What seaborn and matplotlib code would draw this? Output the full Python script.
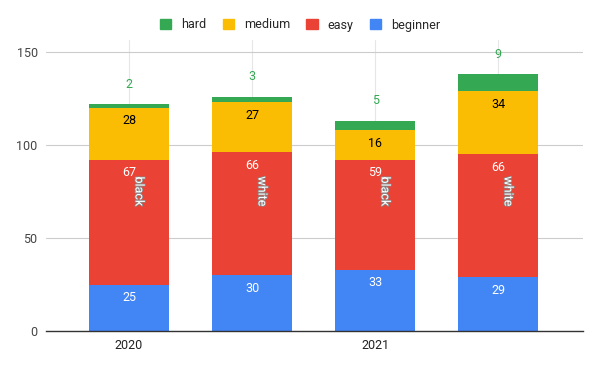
import matplotlib
matplotlib.use("Agg")
import matplotlib.pyplot as plt
import matplotlib.patheffects as pe
import seaborn as sns
import pandas as pd
import numpy as np

# data
bars = ["2020", "", "2021", ""]
inner_labels = ["black", "white", "black", "white"]
beginner = [25, 30, 33, 29]
easy = [67, 66, 59, 66]
medium = [28, 27, 16, 34]
hard = [2, 3, 5, 9]

series = ["beginner", "easy", "medium", "hard"]
colors = {"beginner": "#4285f4", "easy": "#ea4335", "medium": "#fbbc04", "hard": "#34a853"}
label_colors = {"beginner": "white", "easy": "white", "medium": "black", "hard": "#34a853"}

sns.set_theme(style="white")
plt.rcParams["font.family"] = ["Roboto", "DejaVu Sans"]

df = pd.DataFrame({"pos": range(len(bars)), "beginner": beginner, "easy": easy,
                   "medium": medium, "hard": hard})
cum = df[series].cumsum(axis=1)

fig = plt.figure(figsize=(6, 3.71), dpi=100)
ax = fig.add_axes([46 / 600, 40 / 371, 537 / 600, 291 / 371])

# draw cumulative totals from the top series down so each one overlays the last
for s in reversed(series):
    sns.barplot(x=df["pos"], y=cum[s], color=colors[s], width=0.65, saturation=1,
                ax=ax, zorder=3, order=list(range(len(bars))), linewidth=0, edgecolor="none")

# value labels
for i in range(len(bars)):
    for s in series:
        top = cum[s].iloc[i]
        val = df[s].iloc[i]
        if s == "hard":
            ax.annotate(str(val), (i, top), xytext=(0, 20), textcoords="offset pixels",
                        ha="center", va="center", fontsize=9, color=label_colors[s], zorder=5)
        else:
            ax.annotate(str(val), (i, top), xytext=(0, -13), textcoords="offset pixels",
                        ha="center", va="center", fontsize=9, color=label_colors[s], zorder=5)
    ax.annotate(inner_labels[i], (i, 75), xytext=(10, 0), textcoords="offset pixels",
                ha="center", va="center", rotation=-90, fontsize=9, color="white", zorder=6,
                path_effects=[pe.withStroke(linewidth=1.2, foreground="#888888")])

ax.set_ylim(0, 150 * 291 / 279)
ax.set_xlim(-0.675, 3.69)
ax.set_yticks([0, 50, 100, 150])
ax.set_yticklabels(["0", "50", "100", "150"], fontsize=9, color="#444444")
ax.set_xticks(range(len(bars)))
ax.set_xticklabels(bars, fontsize=9, color="#222222")
ax.set_xlabel("")
ax.set_ylabel("")
ax.grid(axis="y", color="#cccccc", linewidth=0.8, zorder=0)
ax.grid(axis="x", color="#e6e6e6", linewidth=0.8, zorder=0)
ax.tick_params(axis="x", length=3, color="#999999", pad=3)
ax.tick_params(axis="y", length=0, pad=6)
for side in ["top", "right", "left"]:
    ax.spines[side].set_visible(False)
ax.spines["bottom"].set_color("#333333")
ax.spines["bottom"].set_linewidth(1)
ax.spines["bottom"].set_zorder(4)

handles = [plt.Rectangle((0, 0), 1, 1, color=colors[s]) for s in ["hard", "medium", "easy", "beginner"]]
fig.legend(handles, ["hard", "medium", "easy", "beginner"], loc="center",
           bbox_to_anchor=(0.5, 1 - 25 / 371), ncol=4, frameon=False, fontsize=9,
           handlelength=0.9, handleheight=0.9, columnspacing=1.3, handletextpad=0.8)

fig.savefig("out.png", dpi=100)
